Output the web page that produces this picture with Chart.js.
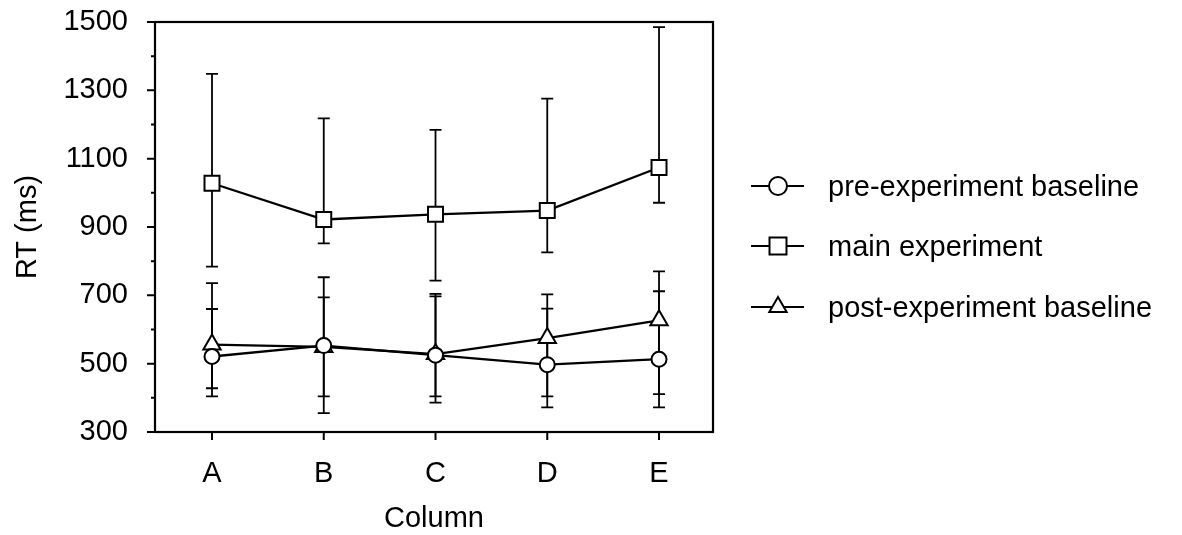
<!DOCTYPE html>
<html><head><meta charset="utf-8">
<script src="https://cdn.jsdelivr.net/npm/chart.js@4.4.0/dist/chart.umd.min.js"></script>
<style>html,body{margin:0;padding:0;background:#fff;}#wrap{width:1182px;height:535px;position:relative;}</style>
</head><body><div id="wrap"><canvas id="c"></canvas></div>
<script>
const categories = ['A', 'B', 'C', 'D', 'E'];
const seriesNames = ['pre-experiment baseline', 'main experiment', 'post-experiment baseline'];
const preMean  = [521, 553, 525, 497, 513];
const preHigh  = [660, 694, 697, 661, 712];
const preLow   = [404, 404, 386, 372, 372];
const mainMean = [1028, 922, 937, 948, 1074];
const mainHigh = [1348, 1218, 1184, 1276, 1485];
const mainLow  = [784, 852, 743, 826, 971];
const postMean = [556, 549, 528, 575, 627];
const postHigh = [736, 753, 704, 703, 770];
const postLow  = [428, 355, 404, 404, 411];
const yTickLabels = [300, 500, 700, 900, 1100, 1300, 1500];
const yMin = 300, yMax = 1500, yMinorStep = 100;

const FONT = "'Liberation Sans', Arial, Helvetica, sans-serif";
const FS = 29;

function pts(arr) { return arr.map((v, i) => ({ x: i, y: v })); }

function mkDs(label, mean, lo, hi, style, r) {
  return {
    label: label, data: pts(mean), errLow: lo, errHigh: hi,
    borderColor: '#000', borderWidth: 2.3, tension: 0,
    pointStyle: style, pointRadius: r, pointHoverRadius: r,
    pointBackgroundColor: '#fff', pointBorderColor: '#000', pointBorderWidth: 2,
    legendRadius: style === 'circle' ? 9 : (style === 'rect' ? 12 : 10)
  };
}

function drawMarker(ctx, style, x, y, r) {
  ctx.beginPath();
  if (style === 'circle') {
    ctx.arc(x, y, r, 0, Math.PI * 2);
  } else if (style === 'rect') {
    const s = r * Math.SQRT1_2;
    ctx.rect(x - s, y - s, 2 * s, 2 * s);
  } else {
    ctx.moveTo(x, y - r);
    ctx.lineTo(x + r * 0.866, y + r / 2);
    ctx.lineTo(x - r * 0.866, y + r / 2);
    ctx.closePath();
  }
  ctx.fill();
  ctx.stroke();
}

const framePlugin = {
  id: 'frameAndErrors',
  beforeDatasetsDraw(chart) {
    const ctx = chart.ctx, xs = chart.scales.x, ys = chart.scales.y;
    ctx.save();
    ctx.strokeStyle = '#000';
    ctx.lineWidth = 1.8;
    chart.data.datasets.forEach(ds => {
      ds.data.forEach((p, i) => {
        const x = xs.getPixelForValue(p.x);
        const yh = ys.getPixelForValue(ds.errHigh[i]);
        const yl = ys.getPixelForValue(ds.errLow[i]);
        ctx.beginPath();
        ctx.moveTo(x, yh); ctx.lineTo(x, yl);
        ctx.moveTo(x - 6, yh); ctx.lineTo(x + 6, yh);
        ctx.moveTo(x - 6, yl); ctx.lineTo(x + 6, yl);
        ctx.stroke();
      });
    });
    ctx.restore();
  },
  afterDraw(chart) {
    const ctx = chart.ctx, a = chart.chartArea, xs = chart.scales.x, ys = chart.scales.y;
    ctx.save();
    ctx.strokeStyle = '#000';
    ctx.lineWidth = 2.2;
    ctx.strokeRect(a.left, a.top, a.right - a.left, a.bottom - a.top);
    ctx.lineWidth = 2;
    ctx.beginPath();
    for (let v = yMin; v <= yMax; v += yMinorStep) {
      const y = ys.getPixelForValue(v);
      const len = yTickLabels.includes(v) ? 8 : 4;
      ctx.moveTo(a.left - len, y); ctx.lineTo(a.left, y);
    }
    categories.forEach((c, i) => {
      const x = xs.getPixelForValue(i);
      ctx.moveTo(x, a.bottom); ctx.lineTo(x, a.bottom + 8);
    });
    ctx.stroke();

    // legend
    const rowY = [186, 246, 307];
    chart.data.datasets.forEach((ds, k) => {
      const y = rowY[k];
      ctx.strokeStyle = '#000';
      ctx.lineWidth = 2;
      ctx.beginPath();
      ctx.moveTo(751, y); ctx.lineTo(804, y);
      ctx.stroke();
      ctx.fillStyle = '#fff';
      drawMarker(ctx, ds.pointStyle, 778, y, ds.legendRadius);
      ctx.fillStyle = '#000';
      ctx.font = FS + 'px ' + FONT;
      ctx.textAlign = 'left';
      ctx.textBaseline = 'middle';
      ctx.fillText(ds.label, 828, y + 2);
    });
    ctx.restore();
  }
};

new Chart(document.getElementById('c'), {
  type: 'line',
  data: {
    datasets: [
      mkDs(seriesNames[0], preMean, preLow, preHigh, 'circle', 7.5),
      mkDs(seriesNames[1], mainMean, mainLow, mainHigh, 'rect', 10.6),
      mkDs(seriesNames[2], postMean, postLow, postHigh, 'triangle', 10)
    ]
  },
  options: {
    responsive: true,
    maintainAspectRatio: false,
    animation: false,
    events: [],
    layout: { padding: { top: 22, right: 469, bottom: 0, left: 0 } },
    plugins: { legend: { display: false }, tooltip: { enabled: false } },
    scales: {
      x: {
        type: 'linear', min: -0.51, max: 4.483,
        grid: { display: false, drawTicks: false },
        border: { display: false },
        afterBuildTicks: s => { s.ticks = categories.map((c, i) => ({ value: i })); },
        afterFit: s => { s.height = 103; s.paddingLeft = 0; s.paddingRight = 0; },
        ticks: {
          autoSkip: false, maxRotation: 0, padding: 25, color: '#000',
          font: { family: FONT, size: FS },
          callback: v => categories[v] !== undefined ? categories[v] : ''
        },
        title: { display: true, text: 'Column', color: '#000', padding: { top: 0, bottom: 0 },
          font: { family: FONT, size: FS, lineHeight: 1.1 } }
      },
      y: {
        type: 'linear', min: yMin, max: yMax,
        grid: { display: false, drawTicks: false },
        border: { display: false },
        afterBuildTicks: s => { s.ticks = yTickLabels.map(v => ({ value: v })); },
        afterFit: s => { s.width = 155; s.paddingTop = 0; s.paddingBottom = 0; },
        ticks: { padding: 27, color: '#000', font: { family: FONT, size: FS },
          callback: v => String(v) },
        title: { display: true, text: 'RT (ms)', color: '#000', padding: { top: 11, bottom: 0 },
          font: { family: FONT, size: FS, lineHeight: 1.2 } }
      }
    }
  },
  plugins: [framePlugin]
});
</script>
</body></html>
